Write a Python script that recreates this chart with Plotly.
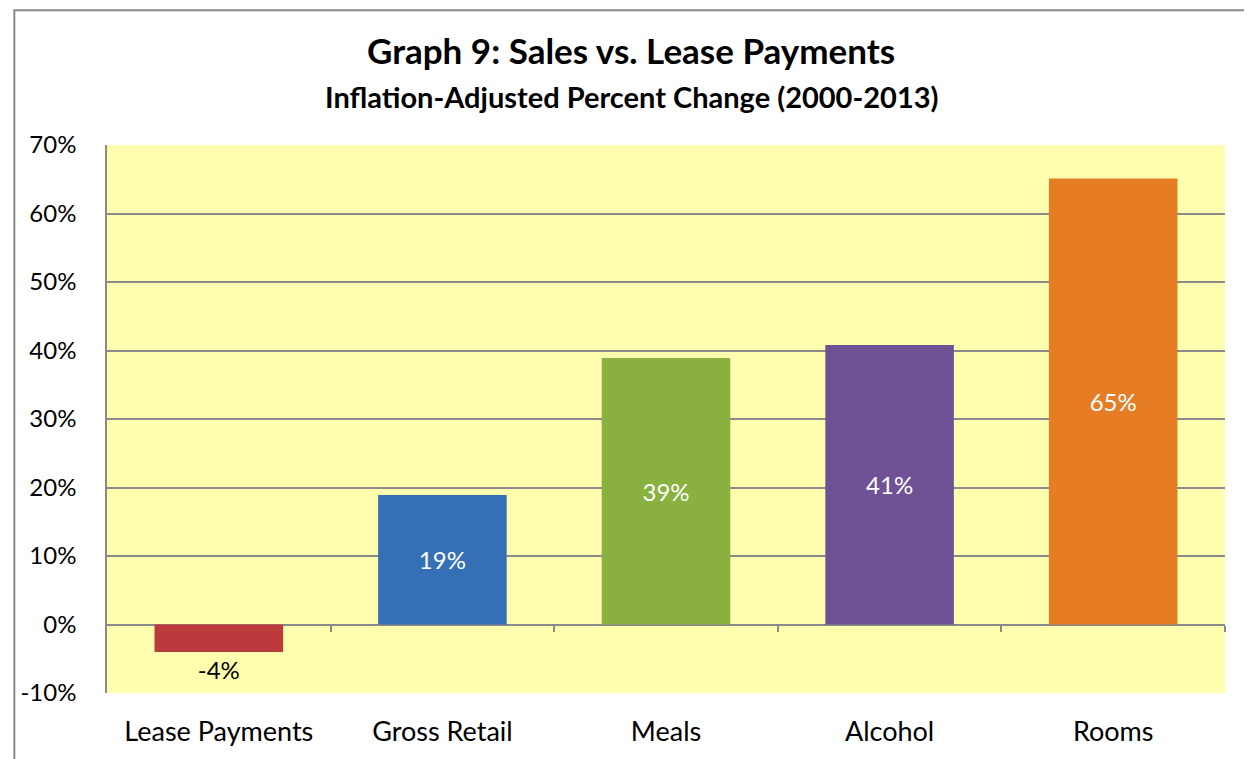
import plotly.graph_objects as go

categories = ["Lease Payments", "Gross Retail", "Meals", "Alcohol", "Rooms"]
values = [-4.0, 18.9, 38.9, 40.8, 65.1]
bar_colors = ["#BC3A3B", "#3570B6", "#8AB03F", "#6F5296", "#E67D25"]
tick_vals = [-10, 0, 10, 20, 30, 40, 50, 60, 70]
tick_labels = ["-10%", "0%", "10%", "20%", "30%", "40%", "50%", "60%", "70%"]

title_text = "Graph 9: Sales vs. Lease Payments"
subtitle_text = "Inflation-Adjusted Percent Change (2000-2013)"

FONT = "Lato"
OFF = 8  # page body margin offset
W, H = 1252 - OFF, 759 - OFF
ML, MR, MT, MB = 103 - OFF, 27, 145 - OFF, 65
PW, PH = W - ML - MR, H - MT - MB

labels = [f"{v:.0f}%" for v in values]
positions = ["outside" if v < 0 else "inside" for v in values]

fig = go.Figure()
fig.add_trace(go.Bar(
    x=categories, y=values,
    marker=dict(color=bar_colors, line=dict(width=0)),
    text=labels, textposition=positions,
    insidetextanchor="middle",
    insidetextfont=dict(family=FONT, size=24, color="white"),
    outsidetextfont=dict(family=FONT, size=24, color="black"),
    cliponaxis=False,
    hoverinfo="skip",
))
# invisible trace on second x axis to draw the category-boundary ticks on the zero line
fig.add_trace(go.Scatter(x=[0, 5], y=[0, 0], xaxis="x2", mode="lines",
                         line=dict(width=0), showlegend=False, hoverinfo="skip"))

fig.update_layout(
    width=W, height=H,
    margin=dict(l=ML, r=MR, t=MT, b=MB),
    paper_bgcolor="white",
    plot_bgcolor="#FFFDAE",
    showlegend=False,
    bargap=0.425,
    font=dict(family=FONT, color="black"),
    xaxis=dict(
        showgrid=False, showline=False, zeroline=False, ticks="",
        tickfont=dict(size=27, color="black"),
        ticklabelstandoff=20,
        fixedrange=True,
    ),
    xaxis2=dict(
        overlaying="x", anchor="free", position=10 / 80,
        range=[0, 5], tickvals=[1, 2, 3, 4, 5], showticklabels=False,
        ticks="outside", ticklen=6, tickwidth=1.5, tickcolor="#888888",
        showgrid=False, showline=False, zeroline=False,
    ),
    yaxis=dict(
        range=[-10, 70], tickvals=tick_vals, ticktext=tick_labels,
        showgrid=True, gridcolor="#8A8A8A", gridwidth=1.5,
        showline=True, linecolor="#8A8A8A", linewidth=1.5,
        zeroline=False, ticks="",
        tickfont=dict(size=24, color="black"),
        ticklabelstandoff=24,
    ),
    annotations=[
        dict(text=f"<b>{title_text}</b>", xref="paper", yref="paper",
             x=(629 - 103) / PW, y=1 + (145 - 50) / PH, xanchor="center", yanchor="middle",
             showarrow=False, font=dict(family=FONT, size=35, color="black")),
        dict(text=f"<b>{subtitle_text}</b>", xref="paper", yref="paper",
             x=(630 - 103) / PW, y=1 + (145 - 96) / PH, xanchor="center", yanchor="middle",
             showarrow=False, font=dict(family=FONT, size=29, color="black")),
    ],
    shapes=[
        dict(type="rect", xref="paper", yref="paper",
             x0=(10 - 103) / PW, x1=1.5,
             y0=-0.5, y1=1 + (145 - 10) / PH,
             line=dict(color="#888888", width=2), fillcolor="rgba(0,0,0,0)", layer="below"),
    ],
)

fig.write_html("out.html")
